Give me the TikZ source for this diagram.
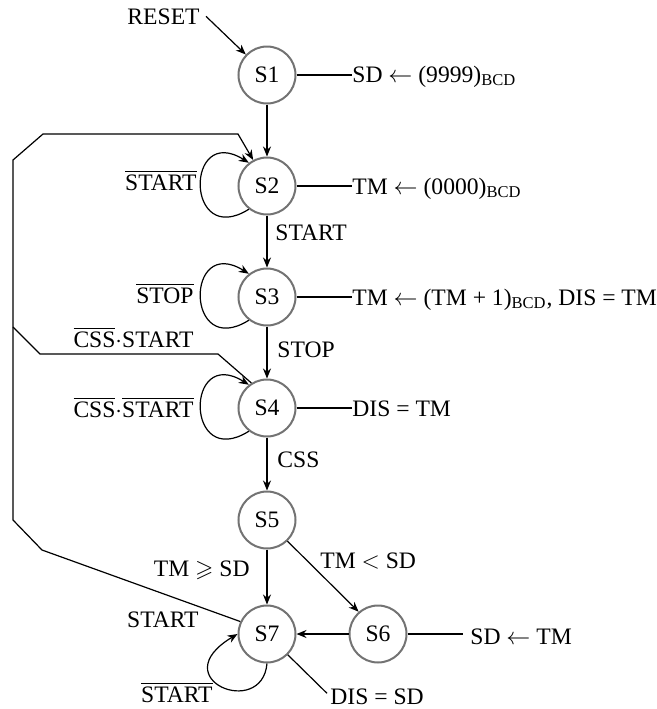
\documentclass[tikz,border=0pt]{standalone}
\usepackage{amsmath,amssymb}
\usepackage{fontspec}
\setmainfont{Liberation Serif}
\usetikzlibrary{arrows.meta,calc}
\definecolor{stategray}{RGB}{115,115,115}
\newcommand{\ovl}[1]{$\overline{\hbox{#1}}$}
\begin{document}
\begin{tikzpicture}[x=0.5pt,y=-0.5pt,
  every node/.style={font=\fontsize{11.8}{14}\selectfont},
  state/.style={circle,draw=stategray,line width=1pt,minimum size=28.5pt,inner sep=0pt},
  lbl/.style={inner sep=0pt},
  wire/.style={line width=0.6pt},
  arr/.style={wire,-{Stealth[length=5pt,width=4pt]}}]
\useasboundingbox (0,0) rectangle (657,709);

% states
\node[state] (S1) at (267,75) {S1};
\node[state] (S2) at (267,186) {S2};
\node[state] (S3) at (267,297) {S3};
\node[state] (S4) at (267,408) {S4};
\node[state] (S5) at (267,520) {S5};
\node[state] (S7) at (267,634) {S7};
\node[state] (S6) at (378,634) {S6};

% reset
\node[lbl,anchor=base east] (R) at (200,24) {RESET};
\draw[arr] ([xshift=3pt]R.east) -- (S1.136);

% outputs
\node[lbl,anchor=base west] (T1) at (352,82) {SD $\leftarrow$ (9999)$_{\text{BCD}}$};
\node[lbl,anchor=base west] (T2) at (352,194) {TM $\leftarrow$ (0000)$_{\text{BCD}}$};
\node[lbl,anchor=base west] (T3) at (352,305) {TM $\leftarrow$ (TM + 1)$_{\text{BCD}}$, DIS = TM};
\node[lbl,anchor=base west] (T4) at (352,416) {DIS = TM};
\node[lbl,anchor=base west] (T6) at (470,644) {SD $\leftarrow$ TM};
\node[lbl,anchor=base west] (T7) at (330,704) {DIS = SD};
\draw[wire] (S1) -- (S1 -| T1.west);
\draw[wire] (S2) -- (S2 -| T2.west);
\draw[wire] (S3) -- (S3 -| T3.west);
\draw[wire] (S4) -- (S4 -| T4.west);
\draw[wire] (S6) -- ($(S6 -| T6.west)+(-7,0)$);
\draw[wire] (S7.-45) -- ($(T7.west)+(-3,-3)$);

% main transitions
\draw[arr] (S1) -- (S2);
\draw[arr] (S2) -- (S3);
\draw[arr] (S3) -- (S4);
\draw[arr] (S4) -- (S5);
\draw[arr] (S5) -- (S7);
\draw[arr] (S5.-46) -- (S6.131);
\draw[arr] (S6) -- (S7);

% transition labels
\node[lbl,anchor=base west] (LA) at (275,240) {START};
\node[lbl,anchor=base west] (LB) at (277,357) {STOP};
\node[lbl,anchor=base west] (LC) at (277,467) {CSS};
\node[lbl,anchor=base east] (LD) at (250,576) {TM $\geqslant$ SD};
\node[lbl,anchor=base west] (LE) at (320,568) {TM $<$ SD};
\node[lbl,anchor=base east] (LF) at (199,627) {START};
\node[lbl,anchor=base east] (LG) at (213,702) {\ovl{START}};
\node[lbl,anchor=base east] (LH) at (197,190) {\ovl{START}};
\node[lbl,anchor=base east] (LI) at (194,303) {\ovl{STOP}};
\node[lbl,anchor=base east] (LJ) at (194,347) {\ovl{CSS}$\cdot$START};
\node[lbl,anchor=base east] (LK) at (194,417) {\ovl{CSS}$\cdot$\ovl{START}};

% self loops
\draw[arr] (S2.232) .. controls +(-64,40) and +(-64,-40) .. (S2.128);
\draw[arr] (S3.232) .. controls +(-64,40) and +(-64,-40) .. (S3.128);
\draw[arr] (S4.232) .. controls +(-64,40) and +(-64,-40) .. (S4.128);
\draw[arr] (S7.-90) .. controls +(-5,56) and +(-75,45) .. (S7.180);

% return paths
\coordinate (P1) at (42,550);
\coordinate (P2) at (13,520);
\coordinate (P3) at (13,160);
\coordinate (P4) at (43,134);
\coordinate (P5) at (238,134);
\coordinate (Q1) at (218,354);
\coordinate (Q2) at (40,354);
\coordinate (Q3) at (13,327);
\draw[arr] (S7.155) -- (P1) -- (P2) -- (P3) -- (P4) -- (P5) -- (S2.118);
\draw[wire] (S4.122) -- (Q1) -- (Q2) -- (Q3);
\end{tikzpicture}
\end{document}
